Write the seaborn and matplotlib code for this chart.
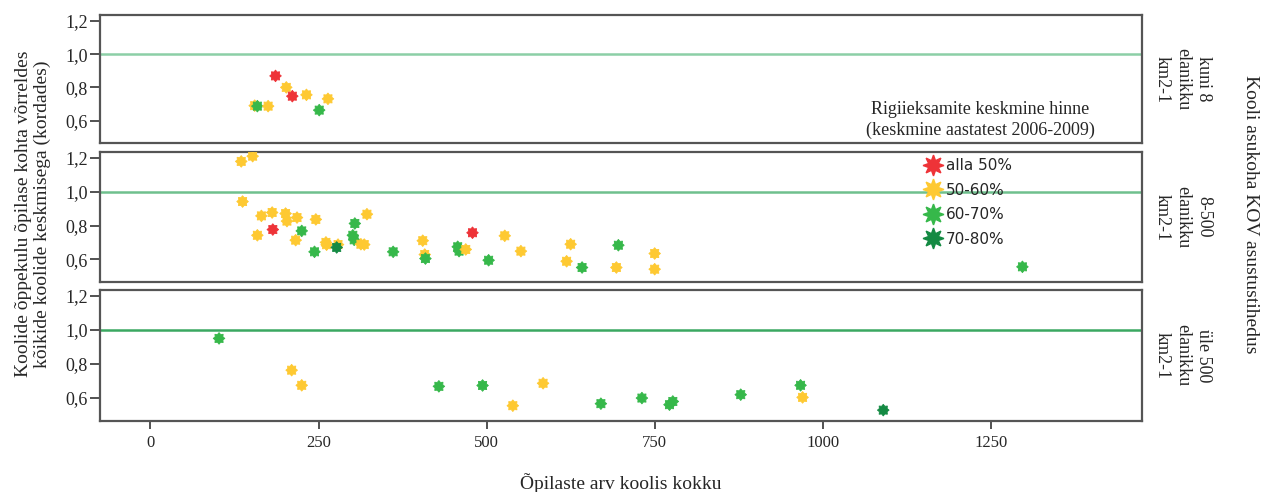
import numpy as np
import pandas as pd
import seaborn as sns
import matplotlib.pyplot as plt
from matplotlib.path import Path

# Andmed loetud jooniselt (x = õpilaste arv, y = kulu suhe, grupp = tulemuste vahemik)
top_x = [186, 202, 211, 232, 264, 155, 159, 175, 251]
top_y = [0.869, 0.80, 0.747, 0.755, 0.731, 0.69, 0.687, 0.687, 0.663]
top_g = ['alla 50%', '50-60%', 'alla 50%', '50-60%', '50-60%', '50-60%', '60-70%', '50-60%', '60-70%']

mid_x = [135, 152, 137, 165, 181, 201, 203, 218, 246, 159, 182, 225, 216, 261, 262,
         279, 277, 244, 304, 301, 303, 313, 318, 322, 361, 405, 408, 409, 479, 457,
         459, 469, 503, 527, 551, 625, 619, 642, 696, 693, 750, 750, 1297]
mid_y = [1.18, 1.211, 0.942, 0.857, 0.877, 0.871, 0.826, 0.847, 0.836, 0.742, 0.776, 0.768,
         0.713, 0.70, 0.686, 0.687, 0.67, 0.644, 0.812, 0.742, 0.715, 0.689, 0.687, 0.867,
         0.644, 0.71, 0.628, 0.604, 0.757, 0.674, 0.648, 0.658, 0.594, 0.739, 0.648, 0.689,
         0.588, 0.551, 0.683, 0.551, 0.634, 0.541, 0.555]
mid_g = ['50-60%', '50-60%', '50-60%', '50-60%', '50-60%', '50-60%', '50-60%', '50-60%',
         '50-60%', '50-60%', 'alla 50%', '60-70%', '50-60%', '50-60%', '50-60%', '50-60%',
         '70-80%', '60-70%', '60-70%', '60-70%', '60-70%', '50-60%', '50-60%', '50-60%',
         '60-70%', '50-60%', '50-60%', '60-70%', 'alla 50%', '60-70%', '60-70%', '50-60%',
         '60-70%', '50-60%', '50-60%', '50-60%', '50-60%', '60-70%', '60-70%', '50-60%',
         '50-60%', '50-60%', '60-70%']

bot_x = [102, 210, 225, 429, 494, 539, 584, 670, 731, 772, 777, 878, 967, 970, 1090]
bot_y = [0.951, 0.764, 0.675, 0.669, 0.674, 0.555, 0.687, 0.567, 0.60, 0.561, 0.58,
         0.62, 0.675, 0.604, 0.529]
bot_g = ['60-70%', '50-60%', '50-60%', '60-70%', '60-70%', '50-60%', '50-60%', '60-70%',
         '60-70%', '60-70%', '60-70%', '60-70%', '60-70%', '50-60%', '70-80%']

groups = ['alla 50%', '50-60%', '60-70%', '70-80%']
colors = ['#ee3338', '#fec932', '#36b84a', '#148a43']
row_labels = ['kuni 8\nelanikku\nkm2-1', '8-500\nelanikku\nkm2-1', 'üle 500\nelanikku\nkm2-1']
x_ticks = [0, 250, 500, 750, 1000, 1250]
y_ticks = [0.6, 0.8, 1.0, 1.2]

# ümar "päikese" marker (8 madalat tippu)
ang = np.linspace(0, 2 * np.pi, 17)[:-1] + np.pi / 2
rad = np.where(np.arange(16) % 2 == 0, 1.0, 0.72)
verts = np.column_stack([rad * np.cos(ang), rad * np.sin(ang)])
burst = Path(np.vstack([verts, verts[:1]]), closed=True)

sns.set_style('white')
plt.rcParams['font.family'] = ['Liberation Serif', 'DejaVu Serif']

fig = plt.figure(figsize=(12.68, 4.92), dpi=100)
left, width = 0.0789, 0.8218
boxes = [(0.7093, 0.260), (0.4268, 0.264), (0.1443, 0.266)]
panels = [(top_x, top_y, top_g), (mid_x, mid_y, mid_g), (bot_x, bot_y, bot_g)]
palette = dict(zip(groups, colors))
line_colors = ['#8ccfa6', '#6fc08d', '#3aa861']

axes = []
for i, ((b, h), (xs, ys, gs)) in enumerate(zip(boxes, panels)):
    ax = fig.add_axes([left, b, width, h])
    df = pd.DataFrame({'x': xs, 'y': ys, 'grupp': gs})
    ax.axhline(1.0, color=line_colors[i], lw=1.8, zorder=1)
    sns.scatterplot(data=df, x='x', y='y', hue='grupp', hue_order=groups, palette=palette,
                    marker=burst, s=70, edgecolor='face', linewidth=0.6, ax=ax,
                    legend=False, zorder=3)
    ax.set_xlim(-75, 1475)
    ax.set_ylim(0.465, 1.235)
    ax.set_yticks(y_ticks)
    ax.set_yticklabels([f'{v:.1f}'.replace('.', ',') for v in y_ticks], fontsize=13)
    ax.set_xlabel('')
    ax.set_ylabel('')
    for sp in ax.spines.values():
        sp.set_color('#555555')
        sp.set_linewidth(1.6)
    ax.tick_params(axis='y', which='both', left=True, length=7, width=1.2, color='#333333', pad=2)
    if i < 2:
        ax.set_xticks([])
    else:
        ax.set_xticks(x_ticks)
        ax.set_xticklabels([str(t) for t in x_ticks], fontsize=12)
        ax.tick_params(axis='x', bottom=True, length=6, width=1.2, color='#333333', pad=4)
    ax.text(1.039, 0.5, row_labels[i], transform=ax.transAxes, rotation=270,
            ha='center', va='center', fontsize=13, linespacing=1.3)
    axes.append(ax)

axes[0].text(0.845, 0.18, 'Rigiieksamite keskmine hinne\n(keskmine aastatest 2006-2009)',
             transform=axes[0].transAxes, ha='center', va='center', fontsize=13, linespacing=1.35)

handles = [plt.Line2D([], [], marker=(8, 1, 0), ls='', color=c, markersize=15,
                      markeredgewidth=1.0) for c in colors]
axes[1].legend(handles, groups, loc='upper left', bbox_to_anchor=(0.785, 1.0), frameon=False,
               prop={'family': 'DejaVu Sans', 'size': 11}, handletextpad=0.2,
               labelspacing=0.62, borderaxespad=0, handlelength=1.2)

fig.text(0.026, 0.565, 'Koolide õppekulu õpilase kohta võrreldes\nkõikide koolide keskmisega (kordades)',
         rotation=90, ha='center', va='center', fontsize=14, linespacing=1.15)
fig.text(0.4898, 0.018, 'Õpilaste arv koolis kokku', ha='center', va='center', fontsize=14)
fig.text(0.986, 0.565, 'Kooli asukoha KOV asustustihedus', rotation=270,
         ha='center', va='center', fontsize=14)

plt.savefig('out.png', dpi=100)
